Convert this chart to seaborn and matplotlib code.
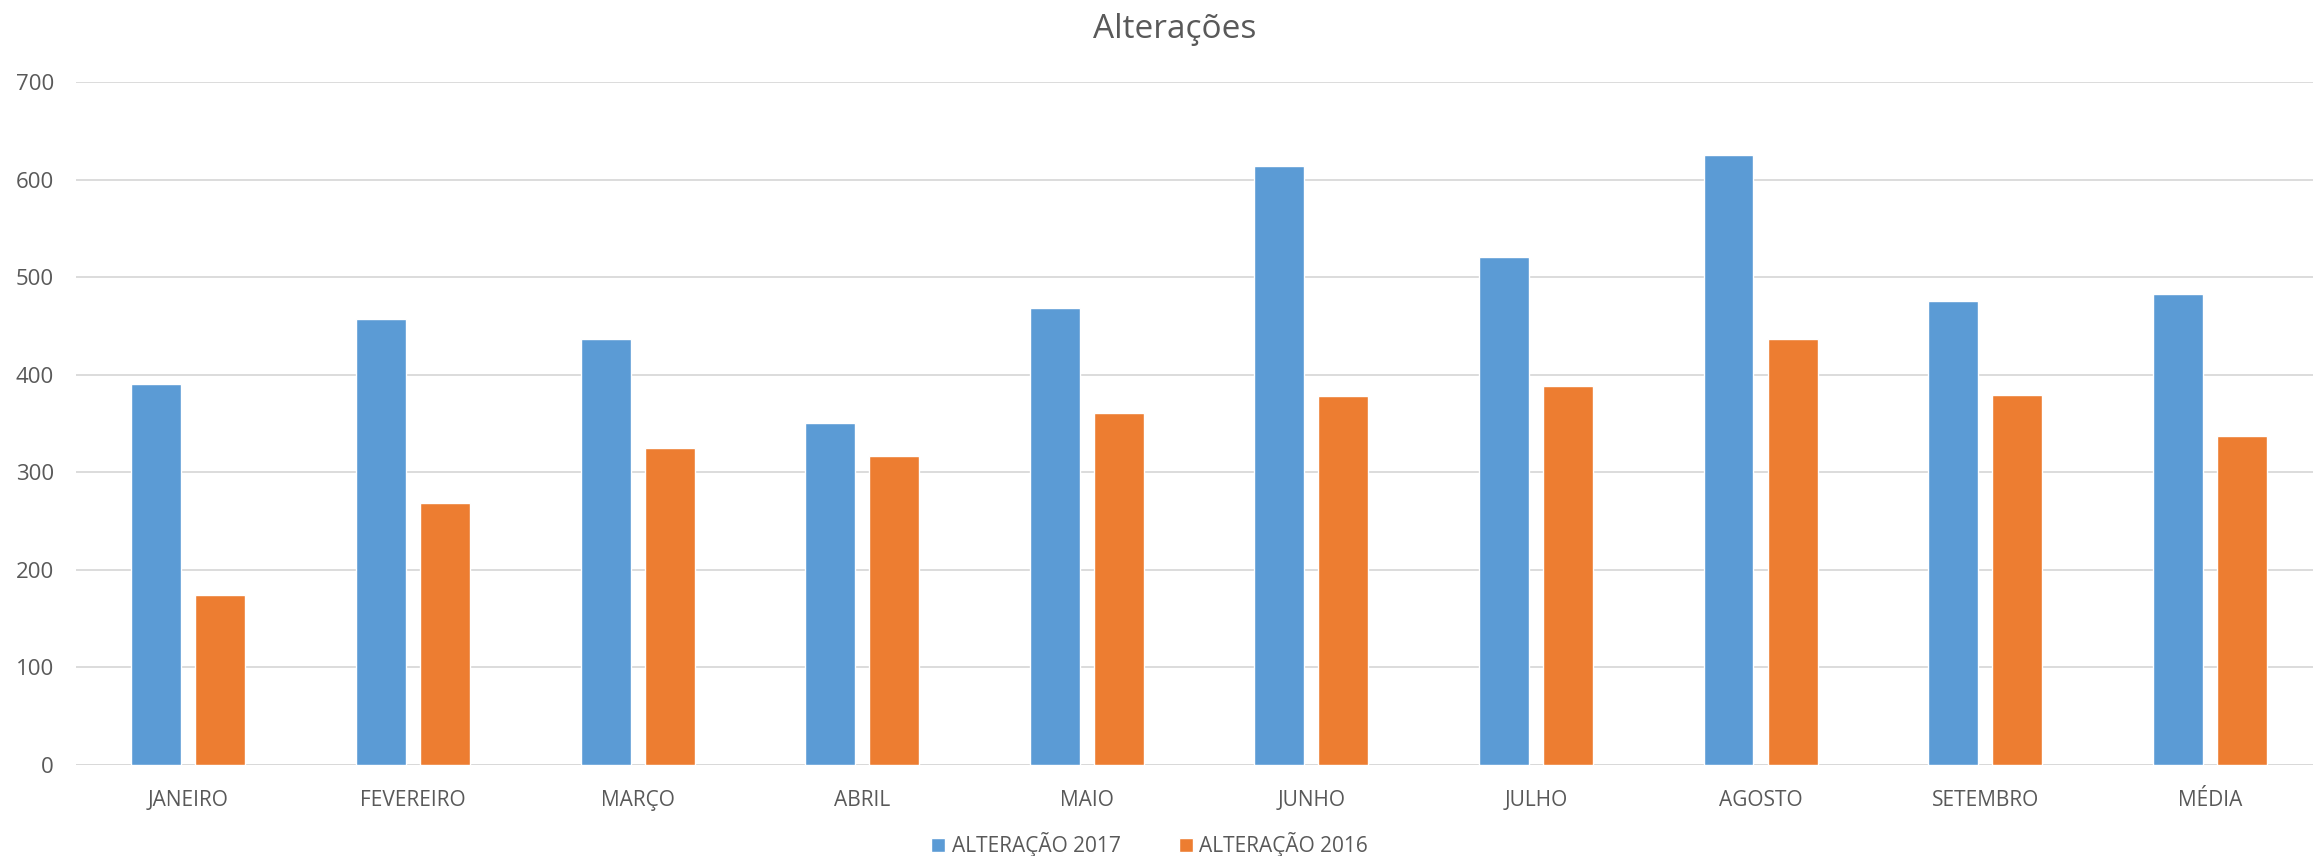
import pandas as pd
import seaborn as sns
from matplotlib import pyplot as plt
from matplotlib.patches import Patch

# Values
meses = ["JANEIRO", "FEVEREIRO", "MARÇO", "ABRIL", "MAIO",
         "JUNHO", "JULHO", "AGOSTO", "SETEMBRO", "MÉDIA"]
alt_2017 = [391, 457, 437, 351, 468, 614, 521, 625, 476, 483]
alt_2016 = [174, 269, 325, 317, 361, 378, 389, 437, 379, 337]
series = ["ALTERAÇÃO 2017", "ALTERAÇÃO 2016"]
cores = ["#5B9BD5", "#ED7D31"]

df = pd.DataFrame({
    "mes": meses * 2,
    "valor": alt_2017 + alt_2016,
    "serie": [series[0]] * len(meses) + [series[1]] * len(meses),
})

sns.set_style("white")
plt.rcParams["font.family"] = ["Open Sans", "DejaVu Sans"]
txt = "#595959"

fig = plt.figure(figsize=(23.13, 8.56), dpi=100)
# plot area runs slightly past the right edge, as in the original
ax = fig.add_axes([0.0329, 0.1063, 0.971, 0.7977])

sns.barplot(data=df, x="mes", y="valor", hue="serie", palette=cores,
            width=0.57, gap=0.22, saturation=1, ax=ax, legend=False)

ax.set_ylim(0, 700)
ax.set_yticks(range(0, 701, 100))
ax.set_xlim(-0.5, len(meses) - 0.5)
ax.yaxis.grid(True, color="#d9d9d9", linewidth=1.3)
ax.set_axisbelow(True)
for s in ax.spines.values():
    s.set_visible(False)
ax.axhline(0, color="#d9d9d9", linewidth=1.3, zorder=0)

ax.set_xlabel("")
ax.set_ylabel("")
ax.tick_params(axis="y", length=0, pad=16, labelsize=16, labelcolor=txt)
ax.tick_params(axis="x", length=0, pad=18, labelsize=15, labelcolor=txt)

fig.suptitle("Alterações", x=0.508, y=0.985, fontsize=24, color=txt)

handles = [Patch(facecolor=c, label=l) for c, l in zip(cores, series)]
fig.legend(handles=handles, loc="center", bbox_to_anchor=(0.497, 0.0135),
           ncol=2, frameon=False, fontsize=15, labelcolor=txt,
           handlelength=0.67, handleheight=0.67, handletextpad=0.3,
           columnspacing=2.8, borderpad=0)

plt.savefig("out.png", dpi=100)
plt.close()
